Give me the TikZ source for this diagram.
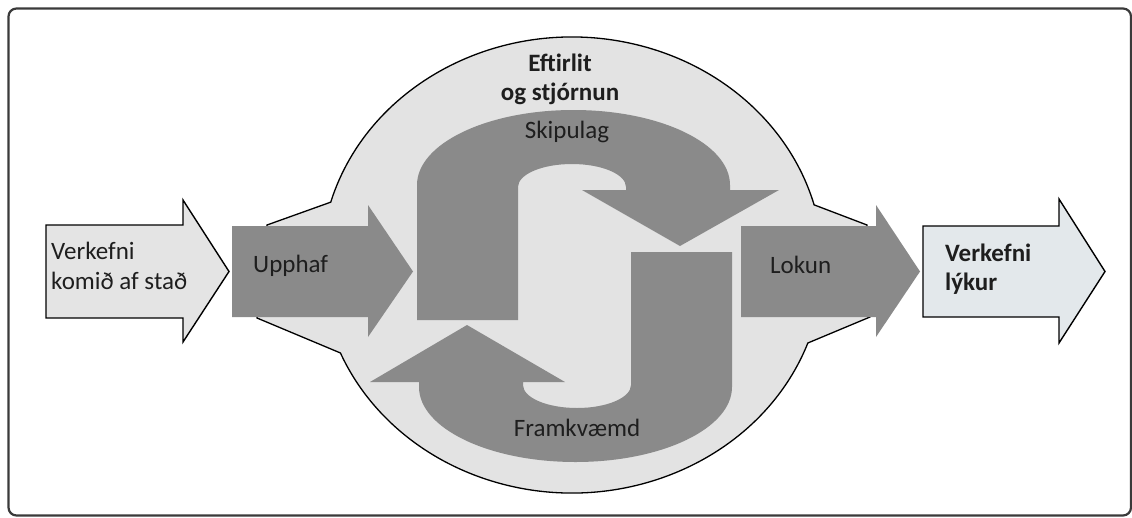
\documentclass[tikz,border=0pt]{standalone}
\usepackage{fontspec}
\setmainfont{Carlito}
\usetikzlibrary{calc}
\definecolor{arrowgray}{HTML}{8A8A8A}
\definecolor{ovalgray}{HTML}{E3E3E3}
\definecolor{leftfill}{HTML}{E4E4E4}
\definecolor{rightfill}{HTML}{E3E8EB}
\definecolor{textdark}{HTML}{1E1E1E}
\definecolor{framegray}{HTML}{3A3A3A}
\begin{document}
\begin{tikzpicture}[x=1pt,y=-1pt,
  darkarrow/.style={fill=arrowgray,draw=none},
  outlined/.style={draw=black,line width=1.4pt,line join=miter},
  lbl/.style={font=\fontsize{25}{30}\selectfont,text=textdark,inner sep=0pt},
  boldlbl/.style={lbl,font=\fontsize{25}{29}\selectfont\bfseries}]
\useasboundingbox (0,0) rectangle (1132,517);
% frame
\draw[framegray,line width=2.2pt,rounded corners=8pt] (8.5,8.5) rectangle (1131,515.5);
% start arrow
\draw[outlined,fill=leftfill] (46,225) -- (183,225) -- (183,200) -- (229,271.5) -- (183,342) -- (183,318) -- (46,318) -- cycle;
% end arrow
\draw[outlined,fill=rightfill] (923,226) -- (1059,226) -- (1059,199) -- (1105,271.5) -- (1059,343) -- (1059,317) -- (923,317) -- cycle;
% big oval with flares
\draw[outlined,line width=1.3pt,fill=ovalgray] (267,225) -- ($(572,265)+(196:251 and 228)$)
  arc[start angle=196,end angle=344.7,x radius=251,y radius=228]
  -- (867,225) -- (870,317) -- ($(572,265)+(20:251 and 228)$)
  arc[start angle=20,end angle=157.3,x radius=251,y radius=228]
  -- (257,318) -- cycle;
% Upphaf arrow
\fill[darkarrow] (232,226) -- (368,226) -- (368,205) -- (413,271.5) -- (368,337) -- (368,317) -- (232,317) -- cycle;
% Lokun arrow
\fill[darkarrow] (741,226) -- (876,226) -- (876,205) -- (920,271.5) -- (876,337) -- (876,317) -- (741,317) -- cycle;
% Skipulag curved arrow
\fill[darkarrow] (417,320) -- (417,185)
  arc[start angle=180,end angle=360,x radius=156.5,y radius=75]
  -- (730,190) -- (779,190) -- (680,246) -- (582,190) -- (626,190) -- (626,187)
  arc[start angle=0,end angle=-180,x radius=54,y radius=23]
  -- (518,320) -- cycle;
% Framkvaemd curved arrow
\fill[darkarrow] (732,252) -- (732,387)
  arc[start angle=0,end angle=180,x radius=156.5,y radius=75]
  -- (419,382) -- (370,382) -- (467,325) -- (565,382) -- (523,382) -- (523,385)
  arc[start angle=180,end angle=0,x radius=54,y radius=23]
  -- (631,252) -- cycle;
% labels
\node[lbl,anchor=base west,align=left] (start) at (51,289) {Verkefni\\komið af stað};
\node[boldlbl,anchor=base west,align=left] (finish) at (945,290) {Verkefni\\lýkur};
\node[boldlbl,anchor=base,align=center] (control) at (560,100) {Eftirlit\\og stjórnun};
\node[lbl,anchor=base] (plan) at (567,138) {Skipulag};
\node[lbl,anchor=base west] (init) at (253,272) {Upphaf};
\node[lbl,anchor=base west] (close) at (770,273) {Lokun};
\node[lbl,anchor=base] (exec) at (577,436) {Framkvæmd};
\end{tikzpicture}
\end{document}
